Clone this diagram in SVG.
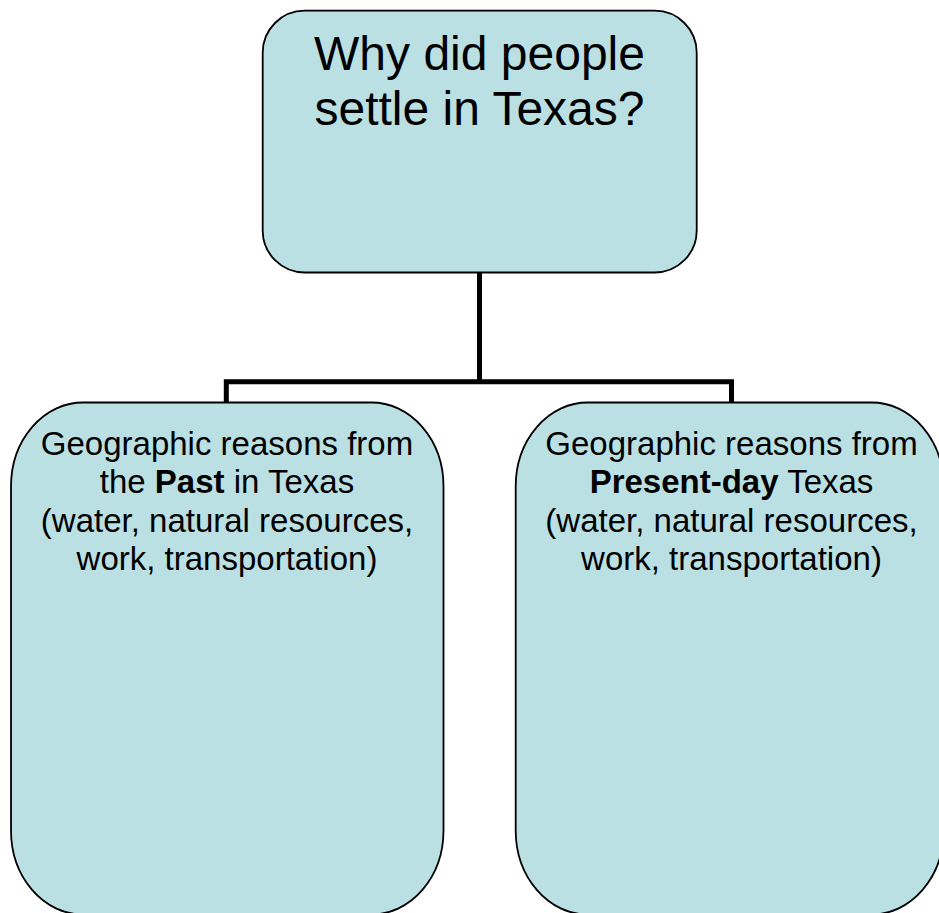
<svg xmlns="http://www.w3.org/2000/svg" width="939" height="913" viewBox="0 0 939 913">
<style>
.box{fill:#bbe0e3;stroke:#000;stroke-width:1.8}
.t{font-family:"Liberation Sans",Arial,sans-serif;fill:#000;text-anchor:middle}
.title{font-size:48px}
.body{font-size:33px}
.conn{fill:none;stroke:#000;stroke-width:5;stroke-linejoin:miter;stroke-linecap:butt}
</style>
<rect width="939" height="913" fill="#fff"/>
<g id="connectors">
<path class="conn" d="M479.5 272.5 V381.8"/>
<path class="conn" d="M226.3 402.5 V381.8 H731.5 V402.5"/>
</g>
<g id="node-top">
<rect class="box" x="262.7" y="10.7" width="434" height="261.8" rx="42" ry="42"/>
<text class="t title" x="479.5" y="70">Why did people</text>
<text class="t title" x="479.5" y="124.5">settle in Texas?</text>
</g>
<g id="node-past">
<rect class="box" x="11" y="402.5" width="432.5" height="512" rx="72" ry="84"/>
<text class="t body" x="227" y="455">Geographic reasons from</text>
<text class="t body" x="227" y="493.3">the <tspan font-weight="bold">Past</tspan> in Texas</text>
<text class="t body" x="227" y="531.6">(water, natural resources,</text>
<text class="t body" x="227" y="570">work, transportation)</text>
</g>
<g id="node-present">
<rect class="box" x="515.7" y="402.5" width="428" height="512" rx="72" ry="84"/>
<text class="t body" x="731.5" y="455">Geographic reasons from</text>
<text class="t body" x="731.5" y="493.3"><tspan font-weight="bold">Present-day</tspan> Texas</text>
<text class="t body" x="731.5" y="531.6">(water, natural resources,</text>
<text class="t body" x="731.5" y="570">work, transportation)</text>
</g>
</svg>
